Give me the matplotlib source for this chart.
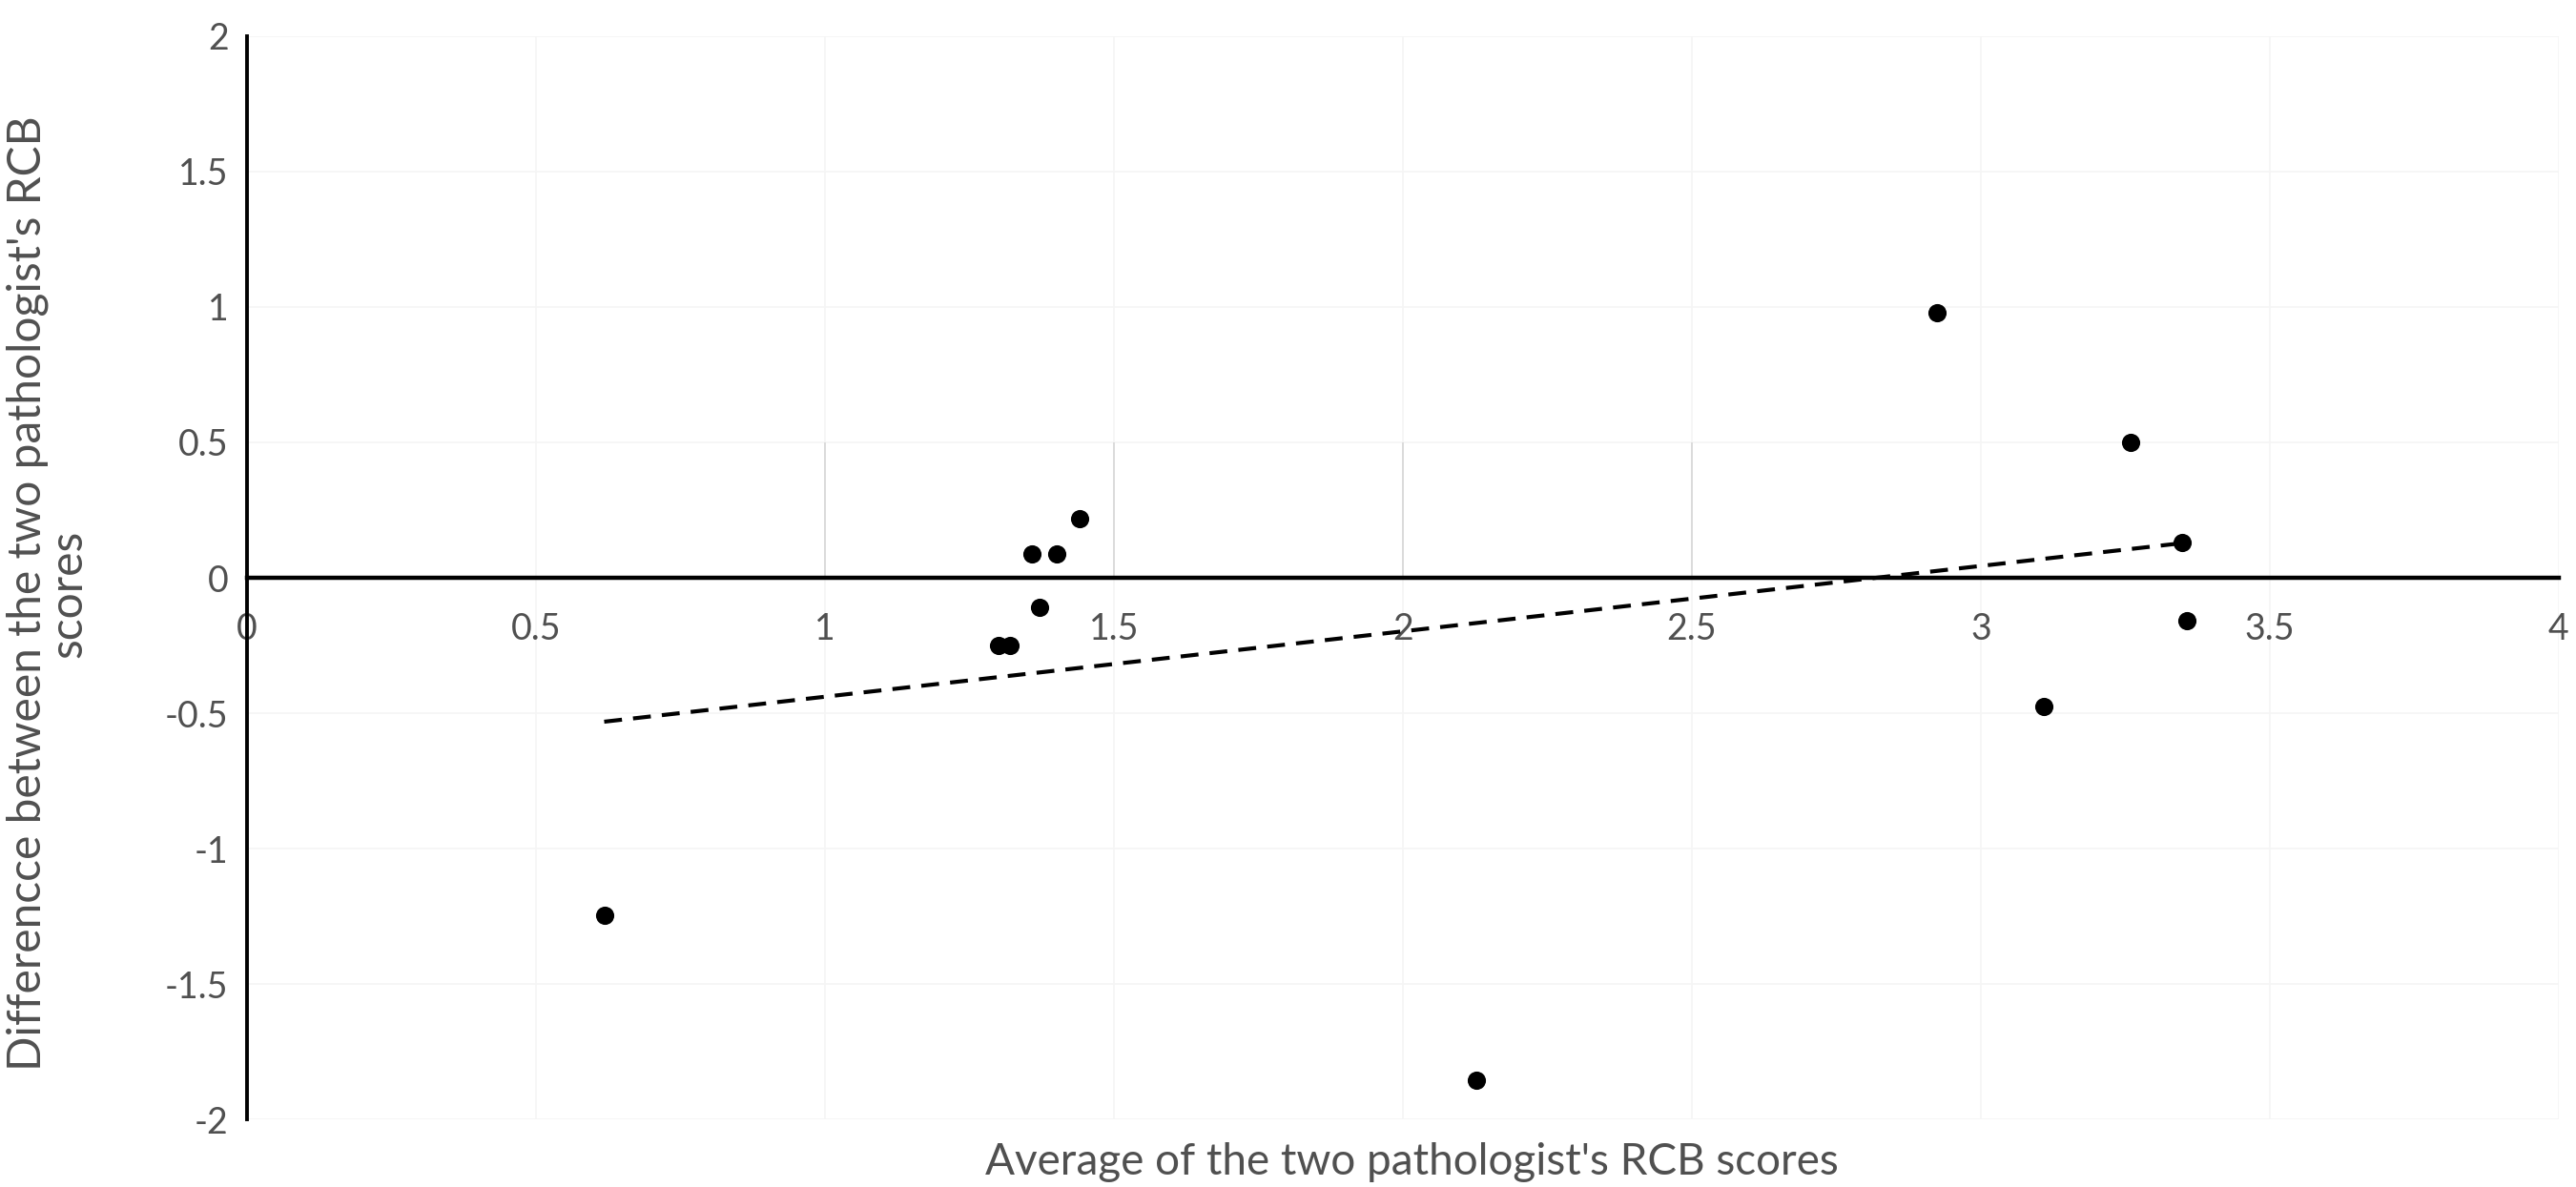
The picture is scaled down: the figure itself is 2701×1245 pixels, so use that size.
import numpy as np
import matplotlib
matplotlib.use("Agg")
import matplotlib.pyplot as plt

# Average of the two scores (x) and their difference (y)
avg_scores = [0.618, 1.30, 1.32, 1.358, 1.371, 1.401, 1.441, 2.127,
              2.924, 3.109, 3.259, 3.348, 3.356]
diff_scores = [-1.247, -0.25, -0.25, 0.088, -0.11, 0.088, 0.218, -1.857,
               0.978, -0.476, 0.5, 0.132, -0.16]

x_ticks = [0, 0.5, 1, 1.5, 2, 2.5, 3, 3.5, 4]
y_ticks = [-2, -1.5, -1, -0.5, 0, 0.5, 1, 1.5, 2]
tick_labels_x = ['0', '0.5', '1', '1.5', '2', '2.5', '3', '3.5', '4']
tick_labels_y = ['-2', '-1.5', '-1', '-0.5', '0', '0.5', '1', '1.5', '2']

plt.rcParams['font.family'] = ['Lato', 'DejaVu Sans']
grey = '#505050'

fig = plt.figure(figsize=(27.01, 12.45), dpi=100)
ax = fig.add_axes([0.0959, 0.057, 0.8974, 0.9125])
ax.set_xlim(0, 4)
ax.set_ylim(-2, 2)

# faint gridlines
for xv in x_ticks[1:]:
    ax.axvline(xv, color='#f5f5f5', lw=1.2, zorder=0)
for yv in y_ticks:
    ax.axhline(yv, color='#f5f5f5', lw=1.2, zorder=0)
# the slightly darker grid segments between 0 and 0.5
ax.vlines([1, 1.5, 2, 2.5], 0, 0.5, color='#d9d9d9', lw=1.3, zorder=0)

# spines: y axis at x=0, x axis crossing at y=0
for s in ['top', 'right']:
    ax.spines[s].set_visible(False)
ax.spines['bottom'].set_position(('data', 0))
ax.spines['bottom'].set_linewidth(3.2)
ax.spines['left'].set_linewidth(2.8)
ax.spines['bottom'].set_zorder(1)

ax.set_xticks(x_ticks)
ax.set_xticklabels(tick_labels_x)
ax.set_yticks(y_ticks)
ax.set_yticklabels(tick_labels_y)
ax.tick_params(axis='x', length=0, pad=26, labelsize=27, labelcolor=grey)
ax.tick_params(axis='y', length=0, pad=14, labelsize=27, labelcolor=grey)

# data points
ax.scatter(avg_scores, diff_scores, s=190, color='black', zorder=4,
           linewidths=0)

# linear trendline
slope, intercept = np.polyfit(avg_scores, diff_scores, 1)
xs = np.array([min(avg_scores), max(avg_scores)])
ax.plot(xs, slope * xs + intercept, color='black', lw=3.0,
        dashes=(4.5, 2.8), zorder=3)

fig.text(0.548, 0.021, "Average of the two pathologist's RCB scores",
         ha='center', va='center', fontsize=33, color=grey)
fig.text(0.0185, 0.5, "Differencce between the two pathologist's RCB\nscores",
         rotation=90, ha='center', va='center', fontsize=34.5, color=grey,
         linespacing=0.95, multialignment='center')

fig.savefig('out.png', dpi=100, facecolor='white')
